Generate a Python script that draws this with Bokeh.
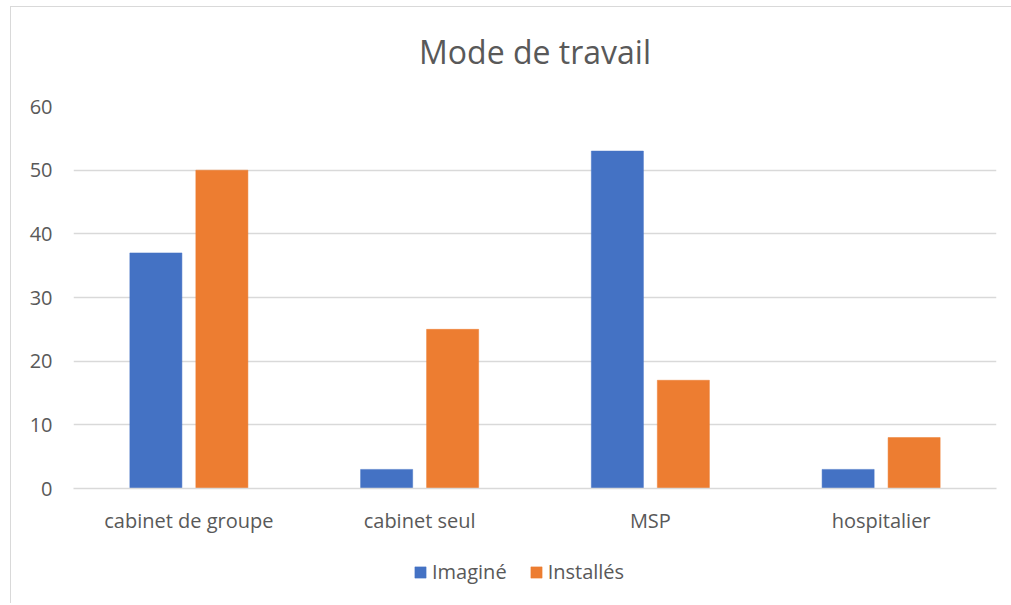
from bokeh.plotting import figure
from bokeh.layouts import column
from bokeh.models import ColumnDataSource, FactorRange, Legend, LegendItem, SingleIntervalTicker, Title
from bokeh.transform import dodge
from bokeh.embed import file_html
from bokeh.resources import INLINE

categories = ["cabinet de groupe", "cabinet seul", "MSP", "hospitalier"]
imagine = [37, 3, 53, 3]
installes = [50, 25, 17, 8]
series_names = ["Imaginé", "Installés"]
title_text = "Mode de travail"

FONT = "Open Sans"
GRAY = "#595959"
BLUE = "#4472C4"
ORANGE = "#ED7D31"

src = ColumnDataSource(dict(cat=categories, imagine=imagine, installes=installes))

p = figure(x_range=FactorRange(*categories, range_padding=0), y_range=(0, 60),
           frame_width=922, frame_height=381, output_backend="svg", toolbar_location=None,
           min_border_left=62, min_border_right=16, min_border_top=99, min_border_bottom=50,
           title=None)
p.styles = {"margin-left": "10px", "margin-top": "6px",
            "border-left": "1px solid #d9d9d9", "border-top": "1px solid #d9d9d9"}

# spacer between frame and title (closest to the frame), then the title
p.add_layout(Title(text=" ", text_font_size="1px", standoff=31), "above")
p.add_layout(Title(text=title_text, align="center", text_font=FONT, text_font_size="32px",
                   text_font_style="normal", text_color=GRAY, standoff=0), "above")

p.vbar(x=dodge("cat", -0.143, range=p.x_range), top="imagine", width=0.2256,
       source=src, fill_color=BLUE, line_color=BLUE, line_width=0.5)
p.vbar(x=dodge("cat", 0.143, range=p.x_range), top="installes", width=0.2256,
       source=src, fill_color=ORANGE, line_color=ORANGE, line_width=0.5)

p.outline_line_color = None
p.xgrid.grid_line_color = None
p.ygrid.grid_line_color = "#d9d9d9"
p.ygrid.grid_line_width = 1.5
p.yaxis.ticker = SingleIntervalTicker(interval=10)

p.yaxis.axis_line_color = None
p.yaxis.major_tick_line_color = None
p.yaxis.minor_tick_line_color = None
p.yaxis.major_tick_out = 0
p.yaxis.major_label_standoff = 17
p.yaxis.major_label_text_font = FONT
p.yaxis.major_label_text_font_size = "20px"
p.yaxis.major_label_text_color = GRAY

p.xaxis.axis_line_color = "#d9d9d9"
p.xaxis.axis_line_width = 1.5
p.xaxis.major_tick_line_color = None
p.xaxis.major_tick_out = 0
p.xaxis.major_label_standoff = 18
p.xaxis.major_label_text_font = FONT
p.xaxis.major_label_text_font_size = "20px"
p.xaxis.major_label_text_color = GRAY

# legend strip below the chart (renderers hidden, only used for legend swatches)
lf = figure(width=1000, height=66, output_backend="svg", toolbar_location=None,
            min_border=0, x_range=FactorRange(*categories, range_padding=0), y_range=(0, 60))
lf.styles = {"margin-left": "10px", "border-left": "1px solid #d9d9d9"}
lf.axis.visible = False
lf.grid.visible = False
lf.outline_line_color = None
l1 = lf.vbar(x="cat", top="imagine", width=0.2256, source=src,
             fill_color=BLUE, line_color=BLUE, line_width=0.5, visible=False)
l2 = lf.vbar(x="cat", top="installes", width=0.2256, source=src,
             fill_color=ORANGE, line_color=ORANGE, line_width=0.5, visible=False)

legend = Legend(items=[LegendItem(label=series_names[0], renderers=[l1]),
                       LegendItem(label=series_names[1], renderers=[l2])],
                orientation="horizontal", location=(340, 18),
                label_text_font=FONT, label_text_font_size="20px", label_text_color=GRAY,
                glyph_width=14, glyph_height=14, spacing=22, label_standoff=5,
                border_line_color=None, background_fill_alpha=0, margin=0, padding=0)
lf.add_layout(legend, "center")

layout = column(p, lf, spacing=0)
open("out.html", "w").write(file_html(layout, INLINE))
